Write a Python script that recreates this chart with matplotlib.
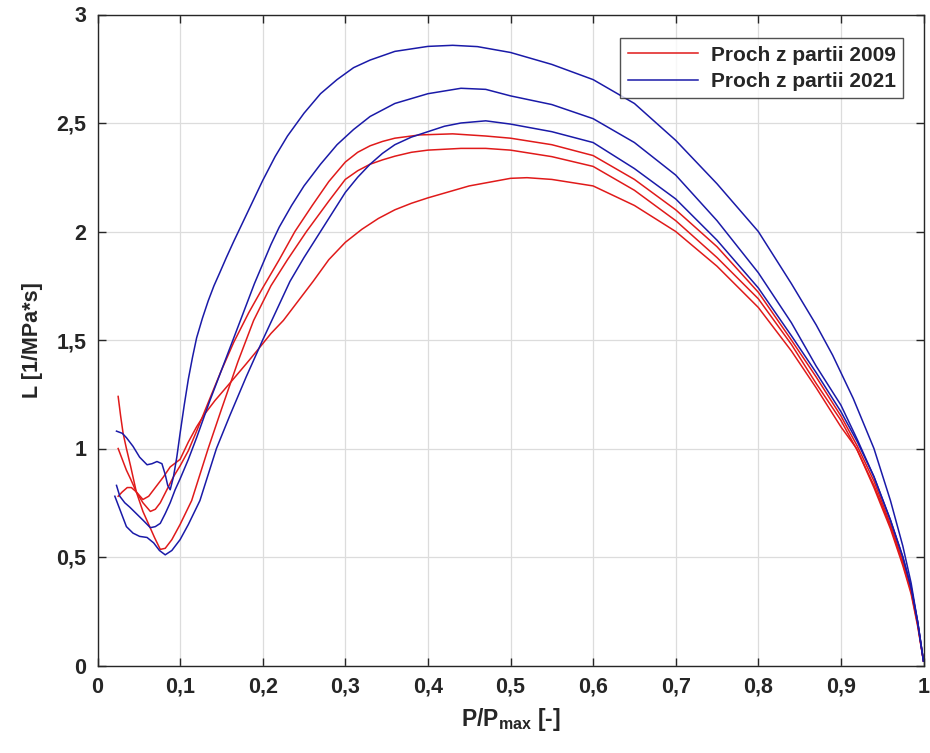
import matplotlib
matplotlib.use("Agg")
import matplotlib.pyplot as plt

plt.rcParams['font.family'] = ['Liberation Sans', 'DejaVu Sans']
plt.rcParams['font.weight'] = 'bold'
plt.rcParams['mathtext.fontset'] = 'custom'
plt.rcParams['mathtext.rm'] = 'Liberation Sans:bold'
plt.rcParams['mathtext.bf'] = 'Liberation Sans:bold'
plt.rcParams['mathtext.it'] = 'Liberation Sans:bold'

# ---------------- data ----------------
x_ticks = [0, 0.1, 0.2, 0.3, 0.4, 0.5, 0.6, 0.7, 0.8, 0.9, 1.0]
x_tick_labels = ['0', '0,1', '0,2', '0,3', '0,4', '0,5', '0,6', '0,7', '0,8', '0,9', '1']
y_ticks = [0, 0.5, 1.0, 1.5, 2.0, 2.5, 3.0]
y_tick_labels = ['0', '0,5', '1', '1,5', '2', '2,5', '3']

series_labels = ['Proch z partii 2009', 'Proch z partii 2021']

# red curves (2009)
r1_x = [0.025, 0.030, 0.035, 0.040, 0.047, 0.055, 0.064, 0.070, 0.076, 0.084, 0.092, 0.100,
        0.110, 0.120, 0.136, 0.150, 0.165, 0.183, 0.200, 0.220, 0.239, 0.260, 0.280, 0.300,
        0.315, 0.330, 0.345, 0.360, 0.390, 0.430, 0.470, 0.500, 0.550, 0.600, 0.650, 0.700,
        0.750, 0.800, 0.840, 0.870, 0.900, 0.920, 0.940, 0.960, 0.975, 0.985, 0.993, 1.000]
r1_y = [1.00, 0.95, 0.90, 0.86, 0.80, 0.75, 0.71, 0.72, 0.75, 0.81, 0.87, 0.92,
        0.99, 1.08, 1.23, 1.36, 1.49, 1.625, 1.74, 1.87, 2.00, 2.12, 2.23, 2.32,
        2.365, 2.395, 2.415, 2.43, 2.445, 2.45, 2.44, 2.43, 2.40, 2.35, 2.24, 2.10,
        1.93, 1.72, 1.50, 1.33, 1.15, 1.01, 0.85, 0.65, 0.48, 0.35, 0.19, 0.02]

r2_x = [0.025, 0.028, 0.031, 0.035, 0.040, 0.047, 0.055, 0.062, 0.069, 0.076, 0.082, 0.090,
        0.100, 0.114, 0.124, 0.134, 0.150, 0.170, 0.189, 0.210, 0.230, 0.253, 0.280, 0.300,
        0.315, 0.330, 0.345, 0.360, 0.380, 0.400, 0.440, 0.470, 0.500, 0.550, 0.600, 0.650,
        0.700, 0.750, 0.800, 0.840, 0.870, 0.900, 0.920, 0.940, 0.960, 0.975, 0.985, 0.993,
        1.000]
r2_y = [1.24, 1.15, 1.07, 1.00, 0.92, 0.80, 0.71, 0.65, 0.59, 0.535, 0.54, 0.58,
        0.65, 0.76, 0.88, 1.00, 1.18, 1.40, 1.59, 1.75, 1.87, 2.00, 2.14, 2.24,
        2.28, 2.31, 2.33, 2.347, 2.365, 2.375, 2.383, 2.383, 2.375, 2.345, 2.30, 2.19,
        2.05, 1.88, 1.69, 1.48, 1.30, 1.13, 0.99, 0.83, 0.64, 0.47, 0.34, 0.19,
        0.02]

r3_x = [0.025, 0.030, 0.036, 0.041, 0.047, 0.055, 0.062, 0.070, 0.080, 0.088, 0.100, 0.110,
        0.120, 0.130, 0.142, 0.160, 0.180, 0.193, 0.210, 0.225, 0.243, 0.261, 0.280, 0.300,
        0.320, 0.340, 0.360, 0.380, 0.400, 0.450, 0.500, 0.520, 0.550, 0.600, 0.650, 0.700,
        0.750, 0.800, 0.840, 0.870, 0.900, 0.919, 0.940, 0.960, 0.975, 0.985, 0.993, 1.000]
r3_y = [0.78, 0.80, 0.82, 0.82, 0.80, 0.765, 0.78, 0.82, 0.87, 0.915, 0.95, 1.03,
        1.10, 1.16, 1.22, 1.30, 1.39, 1.45, 1.53, 1.59, 1.68, 1.77, 1.87, 1.95,
        2.01, 2.06, 2.10, 2.13, 2.155, 2.21, 2.245, 2.248, 2.24, 2.21, 2.12, 2.00,
        1.84, 1.65, 1.45, 1.28, 1.10, 1.00, 0.82, 0.63, 0.46, 0.33, 0.18, 0.02]

# blue curves (2021)
b1_x = [0.023, 0.030, 0.035, 0.043, 0.051, 0.060, 0.066, 0.072, 0.078, 0.082, 0.085, 0.088,
        0.092, 0.096, 0.100, 0.105, 0.110, 0.115, 0.120, 0.127, 0.134, 0.141, 0.148, 0.156,
        0.165, 0.175, 0.185, 0.200, 0.215, 0.230, 0.250, 0.270, 0.290, 0.310, 0.330, 0.360,
        0.400, 0.430, 0.460, 0.500, 0.550, 0.600, 0.650, 0.700, 0.750, 0.800, 0.840, 0.870,
        0.890, 0.915, 0.940, 0.960, 0.975, 0.985, 0.993, 1.000]
b1_y = [1.08, 1.07, 1.05, 1.01, 0.96, 0.925, 0.93, 0.94, 0.93, 0.88, 0.83, 0.81,
        0.87, 0.96, 1.07, 1.20, 1.32, 1.42, 1.51, 1.60, 1.68, 1.75, 1.81, 1.88,
        1.955, 2.035, 2.115, 2.235, 2.345, 2.44, 2.545, 2.635, 2.70, 2.755, 2.79, 2.83,
        2.853, 2.858, 2.852, 2.825, 2.77, 2.70, 2.59, 2.42, 2.22, 2.00, 1.76, 1.57,
        1.43, 1.23, 1.00, 0.76, 0.55, 0.38, 0.20, 0.02]

b2_x = [0.023, 0.027, 0.033, 0.039, 0.047, 0.055, 0.064, 0.070, 0.076, 0.082, 0.088, 0.094,
        0.100, 0.110, 0.120, 0.136, 0.150, 0.160, 0.170, 0.180, 0.190, 0.200, 0.210, 0.220,
        0.235, 0.250, 0.270, 0.290, 0.310, 0.330, 0.360, 0.400, 0.440, 0.470, 0.500, 0.550,
        0.600, 0.650, 0.700, 0.750, 0.800, 0.840, 0.870, 0.900, 0.920, 0.940, 0.960, 0.975,
        0.985, 0.993, 1.000]
b2_y = [0.83, 0.78, 0.75, 0.73, 0.70, 0.67, 0.635, 0.64, 0.655, 0.70, 0.75, 0.81,
        0.86, 0.95, 1.05, 1.22, 1.36, 1.46, 1.56, 1.66, 1.76, 1.85, 1.94, 2.02,
        2.12, 2.21, 2.31, 2.40, 2.47, 2.53, 2.59, 2.635, 2.66, 2.655, 2.625, 2.585,
        2.52, 2.41, 2.26, 2.05, 1.81, 1.58, 1.38, 1.20, 1.04, 0.87, 0.67, 0.50,
        0.36, 0.20, 0.02]

b3_x = [0.021, 0.027, 0.035, 0.043, 0.051, 0.060, 0.068, 0.075, 0.082, 0.090, 0.100, 0.110,
        0.124, 0.134, 0.144, 0.160, 0.180, 0.200, 0.211, 0.222, 0.233, 0.250, 0.265, 0.280,
        0.300, 0.315, 0.330, 0.345, 0.360, 0.380, 0.400, 0.420, 0.440, 0.470, 0.500, 0.550,
        0.600, 0.650, 0.700, 0.750, 0.800, 0.840, 0.870, 0.900, 0.920, 0.940, 0.960, 0.975,
        0.985, 0.993, 1.000]
b3_y = [0.78, 0.72, 0.64, 0.61, 0.595, 0.59, 0.565, 0.53, 0.51, 0.53, 0.58, 0.65,
        0.76, 0.88, 1.00, 1.15, 1.33, 1.50, 1.59, 1.68, 1.77, 1.88, 1.97, 2.06,
        2.18, 2.25, 2.31, 2.36, 2.40, 2.435, 2.46, 2.485, 2.50, 2.51, 2.495, 2.46,
        2.41, 2.29, 2.15, 1.96, 1.74, 1.52, 1.35, 1.17, 1.03, 0.87, 0.67, 0.50,
        0.36, 0.20, 0.02]

# ---------------- plotting ----------------
red = '#e01a1a'
blue = '#1a1aa8'
lw = 1.1

fig = plt.figure(figsize=(9.30, 7.53), dpi=100)
ax = fig.add_axes([97.5 / 930, 87.5 / 753, 826 / 930, 651 / 753])

ax.plot(r1_x, r1_y, color=red, lw=lw, label=series_labels[0])
ax.plot(r2_x, r2_y, color=red, lw=lw)
ax.plot(r3_x, r3_y, color=red, lw=lw)
ax.plot(b1_x, b1_y, color=blue, lw=lw, label=series_labels[1])
ax.plot(b2_x, b2_y, color=blue, lw=lw)
ax.plot(b3_x, b3_y, color=blue, lw=lw)

ax.set_xlim(0, 1)
ax.set_ylim(0, 3)
ax.set_xticks(x_ticks)
ax.set_xticklabels(x_tick_labels)
ax.set_yticks(y_ticks)
ax.set_yticklabels(y_tick_labels)

ax.grid(True, color='#dcdcdc', lw=0.9)
ax.set_axisbelow(True)
ax.tick_params(direction='in', length=6, width=1, top=True, right=True,
               labelsize=15.5, colors='#262626', pad=8)
for s in ax.spines.values():
    s.set_color('#262626')
    s.set_linewidth(1.0)

ax.set_xlabel(r'P/P$_{\mathregular{max}}$ [-]', fontsize=16.5, fontweight='bold',
              color='#262626', labelpad=6)
ax.set_ylabel('L [1/MPa*s]', fontsize=15.5, fontweight='bold', color='#262626', labelpad=10)

leg = ax.legend(loc='upper right', bbox_to_anchor=(0.9755, 0.9634), borderaxespad=0,
                fontsize=15, frameon=True, fancybox=False, edgecolor='#262626',
                handlelength=3.4, handletextpad=0.6, borderpad=0.35, labelspacing=0.35)
leg.get_frame().set_linewidth(1.0)
for t in leg.get_texts():
    t.set_color('#262626')

fig.savefig('out.png', dpi=100, facecolor='white')
